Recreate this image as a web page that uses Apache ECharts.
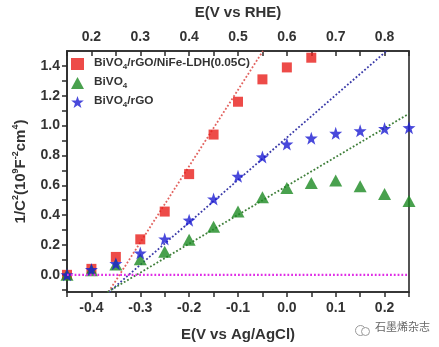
<!DOCTYPE html>
<html>
<head>
<meta charset="utf-8">
<script src="https://cdn.jsdelivr.net/npm/echarts@6/dist/echarts.min.js"></script>
<style>
  html, body { margin: 0; padding: 0; background: #fff; }
  #chart { width: 439px; height: 347px; }
</style>
</head>
<body>
<div id="chart"></div>
<script>
// Mott-Schottky data: potential vs Ag/AgCl (V) and 1/C^2 (10^9 F^-2 cm^4)
const potentialAgCl = [-0.45, -0.40, -0.35, -0.30, -0.25, -0.20, -0.15, -0.10, -0.05, 0.00, 0.05, 0.10, 0.15, 0.20, 0.25];
const ldhValues   = [0.00, 0.04, 0.12, 0.238, 0.424, 0.675, 0.94, 1.16, 1.31, 1.39, 1.455];
const bivo4Values = [0.00, 0.03, 0.07, 0.105, 0.155, 0.235, 0.322, 0.425, 0.52, 0.582, 0.615, 0.632, 0.593, 0.542, 0.495];
const rgoValues   = [0.00, 0.035, 0.075, 0.146, 0.24, 0.366, 0.508, 0.66, 0.79, 0.876, 0.916, 0.948, 0.965, 0.98, 0.986];

// Linear fits (start / end points) of the Mott-Schottky plots
const ldhFitX = [-0.365, -0.049];   const ldhFitY = [-0.115, 1.5];
const rgoFitX = [-0.364, 0.204];    const rgoFitY = [-0.115, 1.5];
const bivo4FitX = [-0.367, 0.25];   const bivo4FitY = [-0.115, 1.08];
const baselineX = [-0.45, 0.25];    const baselineY = [0, 0];

// Axis ticks and labels
const bottomLabels = [-0.4, -0.3, -0.2, -0.1, 0.0, 0.1, 0.2];
const bottomTicks = [-0.45, -0.4, -0.35, -0.3, -0.25, -0.2, -0.15, -0.1, -0.05, 0, 0.05, 0.1, 0.15, 0.2, 0.25];
const topLabels = [0.2, 0.3, 0.4, 0.5, 0.6, 0.7, 0.8];
const topTicks = [0.15, 0.2, 0.25, 0.3, 0.35, 0.4, 0.45, 0.5, 0.55, 0.6, 0.65, 0.7, 0.75, 0.8, 0.85];
const leftLabels = [0.0, 0.2, 0.4, 0.6, 0.8, 1.0, 1.2, 1.4];
const leftTicks = [-0.1, 0, 0.1, 0.2, 0.3, 0.4, 0.5, 0.6, 0.7, 0.8, 0.9, 1.0, 1.1, 1.2, 1.3, 1.4];

const seriesNames = ['BiVO4/rGO/NiFe-LDH(0.05C)', 'BiVO4', 'BiVO4/rGO'];

const pairs = (xs, ys) => ys.map((y, i) => [xs[i], y]);

// "BiVO4/rGO" -> rich text with a subscript 4
const legendRich = (name) => {
  const parts = name.split('BiVO4');
  let out = '{p|}';
  parts.forEach((p, i) => {
    if (p) out += '{a|' + p + '}';
    if (i < parts.length - 1) out += '{a|BiVO}{s|4}';
  });
  return out;
};

const FONT = '"Liberation Sans", Arial, sans-serif';
const AXIS = '#2b2b2b';
const RED = '#e81e1a', GREEN = '#1b8a22', BLUE = '#1c1cd2';

const chart = echarts.init(document.getElementById('chart'), null, { renderer: 'canvas' });

const axisCommon = {
  type: 'value',
  axisLine: { show: true, onZero: false, lineStyle: { color: AXIS, width: 1.6 } },
  splitLine: { show: false },
  axisLabel: { color: '#333', fontSize: 14, fontWeight: 'bold', fontFamily: FONT },
  nameTextStyle: { color: '#333', fontSize: 15, fontWeight: 'bold', fontFamily: FONT }
};

const dotted = (color, w) => ({ color: color, width: w || 1.8, type: [1.8, 2.0], cap: 'butt' });

chart.setOption({
  animation: false,
  backgroundColor: '#fff',
  grid: { left: 67, right: 30, top: 43, bottom: 50, show: true, borderColor: AXIS, borderWidth: 1.6 },
  legend: {
    data: seriesNames,
    orient: 'vertical',
    left: 66,
    top: 52,
    itemWidth: 13,
    itemHeight: 12,
    itemGap: 5,
    formatter: legendRich,
    textStyle: {
      color: '#333', fontFamily: FONT, fontWeight: 'bold', fontSize: 12,
      rich: {
        p: { width: 5 },
        a: { fontSize: 11.8, fontWeight: 'bold', fontFamily: FONT, color: '#333', verticalAlign: 'top', lineHeight: 14 },
        s: { fontSize: 8, fontWeight: 'bold', fontFamily: FONT, color: '#333', verticalAlign: 'bottom', lineHeight: 10, padding: [6, 0, 0, 0] }
      }
    }
  },
  xAxis: [
    Object.assign({}, axisCommon, {
      position: 'bottom',
      min: -0.45, max: 0.25,
      name: 'E(V vs Ag/AgCl)',
      nameLocation: 'middle',
      nameGap: 35,
      axisTick: { show: true, inside: false, length: 5, customValues: bottomTicks, lineStyle: { color: AXIS, width: 1.5 } },
      axisLabel: Object.assign({}, axisCommon.axisLabel, {
        customValues: bottomLabels, margin: 9,
        formatter: (v) => v.toFixed(1)
      })
    }),
    Object.assign({}, axisCommon, {
      position: 'top',
      min: 0.15, max: 0.85,
      name: 'E(V vs RHE)',
      nameLocation: 'middle',
      nameGap: 31,
      axisTick: { show: true, inside: true, length: 5, customValues: topTicks, lineStyle: { color: AXIS, width: 1.5 } },
      axisLabel: Object.assign({}, axisCommon.axisLabel, {
        customValues: topLabels, margin: 7,
        formatter: (v) => v.toFixed(1)
      })
    })
  ],
  yAxis: Object.assign({}, axisCommon, {
    min: -0.115, max: 1.5,
    name: '{a|1/C}{s|2}{a|(10}{s|9}{a|F}{s|-2}{a|cm}{s|4}{a|)}',
    nameLocation: 'middle',
    nameGap: 39,
    nameRotate: 90,
    nameTextStyle: {
      rich: {
        a: { fontSize: 15, fontWeight: 'bold', fontFamily: FONT, color: '#333', verticalAlign: 'bottom', lineHeight: 17 },
        s: { fontSize: 9, fontWeight: 'bold', fontFamily: FONT, color: '#333', verticalAlign: 'top', lineHeight: 10 }
      }
    },
    axisTick: { show: true, inside: false, length: 5, customValues: leftTicks, lineStyle: { color: AXIS, width: 1.5 } },
    axisLabel: Object.assign({}, axisCommon.axisLabel, {
      customValues: leftLabels, margin: 7,
      formatter: (v) => v.toFixed(1)
    })
  }),
  series: [
    { type: 'line', data: pairs(ldhFitX, ldhFitY), showSymbol: false, symbol: 'none', lineStyle: dotted('#e2625e'), z: 2, silent: true },
    { type: 'line', data: pairs(rgoFitX, rgoFitY), showSymbol: false, symbol: 'none', lineStyle: dotted('#3a3aa8'), z: 2, silent: true },
    { type: 'line', data: pairs(bivo4FitX, bivo4FitY), showSymbol: false, symbol: 'none', lineStyle: dotted('#3f7f3a'), z: 2, silent: true },
    {
      name: seriesNames[0], type: 'scatter', symbol: 'rect', symbolSize: 10,
      data: pairs(potentialAgCl, ldhValues), itemStyle: { color: RED }, z: 3
    },
    {
      name: seriesNames[1], type: 'scatter', symbol: 'triangle', symbolSize: [13, 12],
      data: pairs(potentialAgCl, bivo4Values), itemStyle: { color: GREEN }, z: 4
    },
    {
      name: seriesNames[2], type: 'scatter', symbol: 'path://M0,-10 L2.35,-3.24 L9.51,-3.09 L3.8,1.24 L5.88,8.09 L0,4 L-5.88,8.09 L-3.8,1.24 L-9.51,-3.09 L-2.35,-3.24 Z', symbolSize: 13,
      data: pairs(potentialAgCl, rgoValues), itemStyle: { color: BLUE }, z: 5
    },
    { type: 'line', data: pairs(baselineX, baselineY), showSymbol: false, symbol: 'none', lineStyle: dotted('#e02ee6', 2.4), z: 6, silent: true }
  ],
  graphic: [
    { type: 'circle', left: 353, top: 323, shape: { r: 5 }, style: { fill: 'none', stroke: '#9a9a9a', lineWidth: 1 } },
    { type: 'circle', left: 361, top: 327, shape: { r: 4 }, style: { fill: '#fff', stroke: '#9a9a9a', lineWidth: 1 } },
    { type: 'text', left: 375, top: 321, style: { text: '石墨烯杂志', fill: '#666', fontSize: 11, fontFamily: '"Noto Sans CJK SC", sans-serif' } }
  ]
});
</script>
</body>
</html>
